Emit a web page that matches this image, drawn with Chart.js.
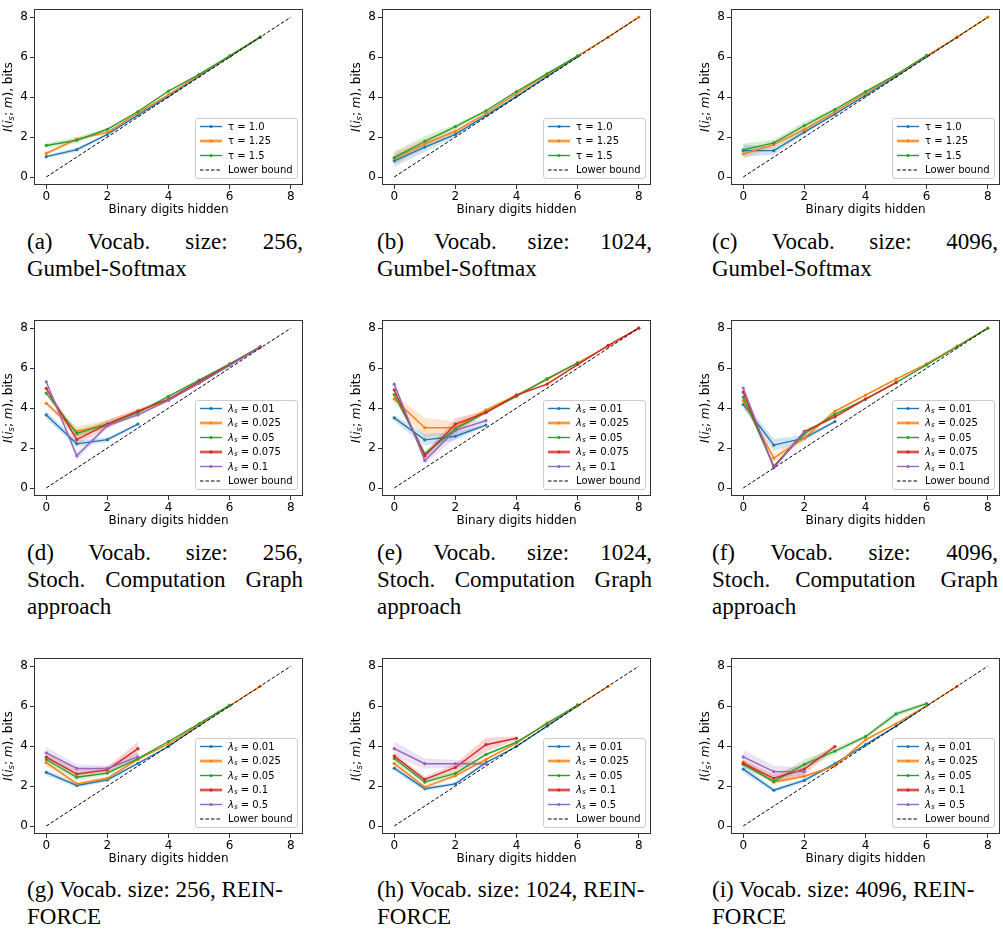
<!DOCTYPE html>
<html lang="en">
<head>
<meta charset="UTF-8">
<script src="https://cdn.jsdelivr.net/npm/chart.js"></script>
<title>Binary digits hidden vs I(i_s; m)</title>
<style>
  body { margin: 0; background: #fff; }
  #page { position: relative; width: 1003px; height: 932px; overflow: hidden; }
  canvas { position: absolute; }
  .cap {
    position: absolute;
    font-family: "Liberation Serif", "Times New Roman", serif;
    font-size: 23px;
    line-height: 27px;
    color: #000;
  }
  .cap .j { text-align: justify; text-align-last: justify; }
</style>
</head>
<body>
<div id="page">
  <canvas id="pa" width="306" height="217"></canvas>
  <canvas id="pb" width="306" height="217"></canvas>
  <canvas id="pc" width="306" height="217"></canvas>
  <canvas id="pd" width="306" height="217"></canvas>
  <canvas id="pe" width="306" height="217"></canvas>
  <canvas id="pf" width="306" height="217"></canvas>
  <canvas id="pg" width="306" height="217"></canvas>
  <canvas id="ph" width="306" height="217"></canvas>
  <canvas id="pi" width="306" height="217"></canvas>

  <div class="cap" style="left:27px;top:228px;width:276px"><div class="j">(a) Vocab. size: 256,</div><div>Gumbel-Softmax</div></div>
  <div class="cap" style="left:377px;top:228px;width:275px"><div class="j">(b) Vocab. size: 1024,</div><div>Gumbel-Softmax</div></div>
  <div class="cap" style="left:712px;top:228px;width:286px"><div class="j">(c) Vocab. size: 4096,</div><div>Gumbel-Softmax</div></div>

  <div class="cap" style="left:27px;top:539px;width:276px"><div class="j">(d) Vocab. size: 256,</div><div class="j">Stoch. Computation Graph</div><div>approach</div></div>
  <div class="cap" style="left:377px;top:539px;width:275px"><div class="j">(e) Vocab. size: 1024,</div><div class="j">Stoch. Computation Graph</div><div>approach</div></div>
  <div class="cap" style="left:712px;top:539px;width:286px"><div class="j">(f) Vocab. size: 4096,</div><div class="j">Stoch. Computation Graph</div><div>approach</div></div>

  <div class="cap" style="left:27px;top:876px;width:276px"><div>(g) Vocab. size: 256, REIN-</div><div>FORCE</div></div>
  <div class="cap" style="left:377px;top:876px;width:275px"><div>(h) Vocab. size: 1024, REIN-</div><div>FORCE</div></div>
  <div class="cap" style="left:712px;top:876px;width:286px"><div>(i) Vocab. size: 4096, REIN-</div><div>FORCE</div></div>
</div>
<script>
  // x axis: number of binary digits hidden
  const tickVals = [0, 2, 4, 6, 8];
  const lowerX = [0, 8];
  const lowerY = [0, 8];

  const tauLabels = ['τ = 1.0', 'τ = 1.25', 'τ = 1.5'];
  const scgLabels = ['λₛ = 0.01', 'λₛ = 0.025', 'λₛ = 0.05', 'λₛ = 0.075', 'λₛ = 0.1'];
  const reinLabels = ['λₛ = 0.01', 'λₛ = 0.025', 'λₛ = 0.05', 'λₛ = 0.1', 'λₛ = 0.5'];

  // (a) Gumbel-Softmax, vocab 256
  const meanA = [
    [1.02, 1.37, 2.13, 3.10, 4.05, 5.05, 6.03, 7.00],
    [1.18, 1.90, 2.23, 3.20, 4.12, 5.10, 6.05, 7.00],
    [1.58, 1.84, 2.39, 3.28, 4.30, 5.14, 6.06, 7.00]
  ];
  const errA = [
    [0.08, 0.10, 0.05, 0.03, 0.02, 0.02, 0.02, 0.01],
    [0.10, 0.08, 0.06, 0.04, 0.03, 0.02, 0.02, 0.01],
    [0.12, 0.15, 0.07, 0.04, 0.03, 0.02, 0.02, 0.01]
  ];
  // (b) Gumbel-Softmax, vocab 1024
  const meanB = [
    [0.81, 1.50, 2.13, 3.07, 4.04, 5.04, 6.03],
    [0.92, 1.66, 2.29, 3.18, 4.17, 5.14, 6.06, 7.00, 8.00],
    [0.97, 1.79, 2.52, 3.31, 4.28, 5.17, 6.06]
  ];
  const errB = [
    [0.30, 0.25, 0.12, 0.05, 0.04, 0.03, 0.02],
    [0.30, 0.25, 0.12, 0.06, 0.05, 0.03, 0.02, 0.01, 0.01],
    [0.30, 0.25, 0.12, 0.06, 0.05, 0.03, 0.02]
  ];
  // (c) Gumbel-Softmax, vocab 4096
  const meanC = [
    [1.32, 1.32, 2.25, 3.15, 4.09, 5.04, 6.03, 7.00],
    [1.16, 1.62, 2.37, 3.26, 4.20, 5.10, 6.06, 7.00, 8.00],
    [1.36, 1.71, 2.57, 3.38, 4.28, 5.12, 6.09]
  ];
  const errC = [
    [0.30, 0.20, 0.10, 0.06, 0.04, 0.03, 0.02, 0.01],
    [0.25, 0.15, 0.12, 0.06, 0.04, 0.03, 0.02, 0.01, 0.01],
    [0.30, 0.15, 0.20, 0.08, 0.05, 0.03, 0.02]
  ];
  // (d) SCG, vocab 256
  const meanD = [
    [3.66, 2.21, 2.42, 3.20],
    [4.24, 2.83, 3.20, 3.85, 4.39, 5.28, 6.16, 7.07],
    [4.75, 2.73, 3.20, 3.77, 4.59, 5.40, 6.21, 7.07],
    [4.99, 2.42, 3.20, 3.85, 4.45, 5.32, 6.16, 7.07],
    [5.32, 1.61, 3.12, 3.66, 4.39, 5.24, 6.13, 7.04]
  ];
  const errD = [
    [0.20, 0.15, 0.12, 0.05],
    [0.10, 0.25, 0.20, 0.10, 0.05, 0.05, 0.03, 0.02],
    [0.10, 0.20, 0.15, 0.10, 0.05, 0.05, 0.03, 0.02],
    [0.10, 0.25, 0.20, 0.10, 0.05, 0.05, 0.03, 0.02],
    [0.10, 0.20, 0.10, 0.08, 0.05, 0.04, 0.03, 0.02]
  ];
  // (e) SCG, vocab 1024
  const meanE = [
    [3.51, 2.41, 2.59, 3.15],
    [4.46, 3.02, 3.02, 3.90, 4.65, 5.43, 6.26, 7.10, 8.00],
    [4.67, 1.71, 2.96, 3.80, 4.59, 5.48, 6.26],
    [4.91, 1.61, 3.20, 3.77, 4.65, 5.20, 6.18, 7.14, 8.00],
    [5.20, 1.38, 2.88, 3.37]
  ];
  const errE = [
    [0.15, 0.30, 0.20, 0.05],
    [0.20, 0.50, 0.30, 0.10, 0.05, 0.05, 0.03, 0.02, 0.01],
    [0.10, 0.15, 0.15, 0.08, 0.05, 0.04, 0.03],
    [0.10, 0.15, 0.30, 0.08, 0.05, 0.04, 0.03, 0.02, 0.01],
    [0.10, 0.15, 0.40, 0.10]
  ];
  // (f) SCG, vocab 4096
  const meanF = [
    [4.18, 2.15, 2.50, 3.32],
    [4.37, 1.50, 2.50, 3.84, 4.65, 5.45, 6.21, 7.10, 8.00],
    [4.55, 1.09, 2.72, 3.69, 4.45, 5.28, 6.16, 7.07, 8.00],
    [4.80, 1.06, 2.83, 3.56, 4.45, 5.28],
    [5.00, 1.01, 2.80]
  ];
  const errF = [
    [0.20, 0.30, 0.15, 0.05],
    [0.10, 0.20, 0.15, 0.10, 0.06, 0.05, 0.03, 0.02, 0.01],
    [0.08, 0.05, 0.08, 0.06, 0.04, 0.03, 0.03, 0.02, 0.01],
    [0.08, 0.05, 0.08, 0.06, 0.04, 0.03],
    [0.10, 0.05, 0.05]
  ];
  // (g) REINFORCE, vocab 256
  const meanG = [
    [2.68, 2.03, 2.31, 3.14, 3.98, 5.04, 6.02],
    [3.17, 2.11, 2.39, 3.33, 4.11, 5.07, 6.02, 6.99],
    [3.33, 2.44, 2.65, 3.37, 4.23, 5.12, 6.05],
    [3.45, 2.60, 2.81, 3.87],
    [3.66, 2.88, 2.88, 3.46]
  ];
  const errG = [
    [0.15, 0.10, 0.10, 0.05, 0.03, 0.02, 0.02],
    [0.15, 0.10, 0.10, 0.06, 0.04, 0.03, 0.02, 0.01],
    [0.15, 0.15, 0.10, 0.06, 0.04, 0.03, 0.02],
    [0.15, 0.20, 0.15, 0.35],
    [0.30, 0.20, 0.15, 0.20]
  ];
  // (h) REINFORCE, vocab 1024
  const meanH = [
    [2.89, 1.87, 2.11, 3.17, 3.98, 5.00, 6.02],
    [3.13, 1.95, 2.52, 3.33, 4.15, 5.17, 6.02, 6.99],
    [3.38, 2.20, 2.63, 3.58, 4.20, 5.12, 6.07],
    [3.50, 2.33, 2.93, 4.07, 4.39],
    [3.87, 3.12, 3.12, 3.12]
  ];
  const errH = [
    [0.15, 0.10, 0.08, 0.05, 0.03, 0.02, 0.02],
    [0.15, 0.10, 0.10, 0.08, 0.05, 0.05, 0.02, 0.01],
    [0.15, 0.10, 0.10, 0.08, 0.05, 0.03, 0.02],
    [0.15, 0.15, 0.20, 0.35, 0.10],
    [0.35, 0.25, 0.20, 0.10]
  ];
  // (i) REINFORCE, vocab 4096
  const meanI = [
    [2.85, 1.79, 2.28, 3.12, 4.07, 5.00, 6.02],
    [3.20, 2.20, 2.49, 3.01, 4.31, 5.12, 6.02, 6.99],
    [3.09, 2.23, 3.09, 3.75, 4.47, 5.61, 6.13],
    [3.14, 2.39, 2.85, 3.98],
    [3.46, 2.72, 2.72]
  ];
  const errI = [
    [0.20, 0.10, 0.10, 0.05, 0.04, 0.02, 0.02],
    [0.15, 0.10, 0.10, 0.05, 0.08, 0.04, 0.02, 0.01],
    [0.15, 0.10, 0.25, 0.15, 0.10, 0.15, 0.08],
    [0.15, 0.20, 0.30, 0.10],
    [0.35, 0.30, 0.20]
  ];

  const palette = ['#1f77b4', '#ff7f0e', '#2ca02c', '#d62728', '#9467bd'];
  const bandCols = ['rgba(31,119,180,0.2)', 'rgba(255,127,14,0.2)', 'rgba(44,160,44,0.2)',
                    'rgba(214,39,40,0.2)', 'rgba(148,103,189,0.2)'];
  const legendBandCols = ['rgba(31,119,180,0.3)', 'rgba(255,127,14,0.3)', 'rgba(44,160,44,0.3)',
                          'rgba(214,39,40,0.3)', 'rgba(148,103,189,0.3)'];

  // draw a run of [text, italic, subscript] pieces starting at x, returns end x
  function drawPieces(ctx, pieces, x, y, size) {
    pieces.forEach(p => {
      const sz = p[2] ? size * 0.7 : size;
      ctx.font = (p[1] ? 'italic ' : '') + sz + 'px "DejaVu Sans"';
      ctx.fillText(p[0], x, y + (p[2] ? size * 0.2 : 0));
      x += ctx.measureText(p[0]).width;
    });
    return x;
  }
  function piecesWidth(ctx, pieces, size) {
    let w = 0;
    pieces.forEach(p => {
      const sz = p[2] ? size * 0.7 : size;
      ctx.font = (p[1] ? 'italic ' : '') + sz + 'px "DejaVu Sans"';
      w += ctx.measureText(p[0]).width;
    });
    return w;
  }
  // legend labels: λₛ gets italic lambda with italic subscript s
  function labelPieces(txt) {
    if (txt.startsWith('λₛ')) return [['λ', true, false], ['s', true, true], [txt.slice(2), false, false]];
    return [[txt, false, false]];
  }
  const yTitle = [['I', true, false], ['(', false, false], ['i', true, false], ['s', true, true],
                  ['; ', false, false], ['m', true, false], ['), bits', false, false]];

  // axes box on all four sides plus the y label, like matplotlib
  const frame = {
    id: 'frame',
    afterDraw(chart) {
      const a = chart.chartArea, ctx = chart.ctx;
      ctx.save();
      ctx.strokeStyle = '#333';
      ctx.lineWidth = 1;
      ctx.strokeRect(Math.round(a.left) + 0.5, Math.round(a.top) + 0.5,
                     Math.round(a.right - a.left) - 1, Math.round(a.bottom - a.top) - 1);
      ctx.fillStyle = '#000';
      ctx.textBaseline = 'alphabetic';
      const w = piecesWidth(ctx, yTitle, 12);
      ctx.translate(a.left - 22, (a.top + a.bottom) / 2 + w / 2);
      ctx.rotate(-Math.PI / 2);
      drawPieces(ctx, yTitle, 0, 0, 12);
      ctx.restore();
    }
  };

  // legend box in the lower right corner of the axes
  const boxLegend = {
    id: 'boxLegend',
    afterDraw(chart) {
      const items = chart.data.datasets.filter(d => d.legendText);
      const ctx = chart.ctx, a = chart.chartArea;
      ctx.save();
      let tw = 0;
      items.forEach(d => { tw = Math.max(tw, piecesWidth(ctx, labelPieces(d.legendText), 10)); });
      const rowH = 14.5;
      const w = Math.round(tw + 37), h = Math.round(items.length * rowH + 2);
      const x0 = Math.round(a.right - 6 - w), y0 = Math.round(a.bottom - 7 - h);
      ctx.fillStyle = 'rgba(255,255,255,0.85)';
      ctx.strokeStyle = '#cccccc';
      ctx.lineWidth = 1;
      ctx.beginPath();
      ctx.roundRect(x0 + 0.5, y0 + 0.5, w, h, 2.5);
      ctx.fill();
      ctx.stroke();
      items.forEach((d, i) => {
        const y = y0 + 8.5 + rowH * i;
        const l1 = x0 + 5, l2 = x0 + 27;
        if (d.legendBand) {
          ctx.fillStyle = d.legendBand;
          ctx.fillRect(l1, y - 2, l2 - l1, 4);
        }
        ctx.strokeStyle = d.borderColor;
        ctx.lineWidth = d.borderWidth;
        ctx.setLineDash(d.borderDash || []);
        ctx.beginPath();
        ctx.moveTo(l1, y);
        ctx.lineTo(l2, y);
        ctx.stroke();
        ctx.setLineDash([]);
        if (d.pointRadius) {
          ctx.fillStyle = d.borderColor;
          ctx.beginPath();
          ctx.arc((l1 + l2) / 2, y, d.pointRadius, 0, Math.PI * 2);
          ctx.fill();
        }
        ctx.fillStyle = '#000';
        ctx.textBaseline = 'middle';
        drawPieces(ctx, labelPieces(d.legendText), x0 + 33, y + 0.5, 10);
      });
      ctx.restore();
    }
  };

  function buildDatasets(means, errs, labels) {
    const ds = [];
    means.forEach((m, k) => {
      ds.push({
        data: m.map((v, i) => ({ x: i, y: v + errs[k][i] })),
        borderWidth: 0, pointRadius: 0, fill: false, order: 1000
      });
      ds.push({
        data: m.map((v, i) => ({ x: i, y: v - errs[k][i] })),
        borderWidth: 0, pointRadius: 0, fill: '-1',
        backgroundColor: bandCols[k], order: 1000
      });
    });
    means.forEach((m, k) => {
      ds.push({
        legendText: labels[k],
        legendBand: k % 2 === 1 ? legendBandCols[k] : null,
        data: m.map((v, i) => ({ x: i, y: v })),
        borderColor: palette[k],
        backgroundColor: palette[k],
        borderWidth: 1.4,
        pointRadius: 1.6,
        pointBorderWidth: 0,
        fill: false,
        order: 100 - k
      });
    });
    ds.push({
      legendText: 'Lower bound',
      data: lowerX.map((x, i) => ({ x: x, y: lowerY[i] })),
      borderColor: '#000',
      borderWidth: 1,
      borderDash: [3.5, 2],
      pointRadius: 0,
      fill: false,
      order: 0
    });
    return ds;
  }

  const tickFont = { family: 'DejaVu Sans', size: 12 };

  function makeChart(id, left, top, frameH, means, errs, labels) {
    const el = document.getElementById(id);
    el.style.left = left + 'px';
    el.style.top = top + 'px';
    el.height = 4 + frameH + 32;
    new Chart(el, {
      type: 'line',
      data: { datasets: buildDatasets(means, errs, labels) },
      options: {
        animation: false,
        responsive: false,
        maintainAspectRatio: false,
        elements: { line: { tension: 0 } },
        layout: { padding: { top: 4, right: 2, left: 0, bottom: 0 } },
        plugins: { legend: { display: false }, tooltip: { enabled: false } },
        scales: {
          x: {
            type: 'linear', min: -0.4, max: 8.4,
            afterBuildTicks: s => { s.ticks = tickVals.map(v => ({ value: v })); },
            afterFit: s => { s.height = 32; },
            border: { display: false },
            grid: { drawOnChartArea: false, drawTicks: true, tickLength: 4, color: '#333' },
            ticks: { color: '#000', font: tickFont, padding: 1, maxRotation: 0 },
            title: { display: true, text: 'Binary digits hidden', color: '#000', font: tickFont,
                     padding: { top: 0, bottom: 0 } }
          },
          y: {
            type: 'linear', min: -0.4, max: 8.4,
            afterBuildTicks: s => { s.ticks = tickVals.map(v => ({ value: v })); },
            afterFit: s => { s.width = 33; },
            border: { display: false },
            grid: { drawOnChartArea: false, drawTicks: true, tickLength: 4, color: '#333' },
            ticks: { color: '#000', font: tickFont, padding: 2 },
            title: { display: false }
          }
        }
      },
      plugins: [frame, boxLegend]
    });
  }

  // columns: frame left 34, 382, 731 -> canvas left = frame left - 33
  makeChart('pa', 1, 0, 181, meanA, errA, tauLabels);
  makeChart('pb', 349, 0, 181, meanB, errB, tauLabels);
  makeChart('pc', 698, 0, 181, meanC, errC, tauLabels);
  makeChart('pd', 1, 311, 181, meanD, errD, scgLabels);
  makeChart('pe', 349, 311, 181, meanE, errE, scgLabels);
  makeChart('pf', 698, 311, 181, meanF, errF, scgLabels);
  makeChart('pg', 1, 649, 181, meanG, errG, reinLabels);
  makeChart('ph', 349, 649, 181, meanH, errH, reinLabels);
  makeChart('pi', 698, 649, 181, meanI, errI, reinLabels);
</script>
</body>
</html>
